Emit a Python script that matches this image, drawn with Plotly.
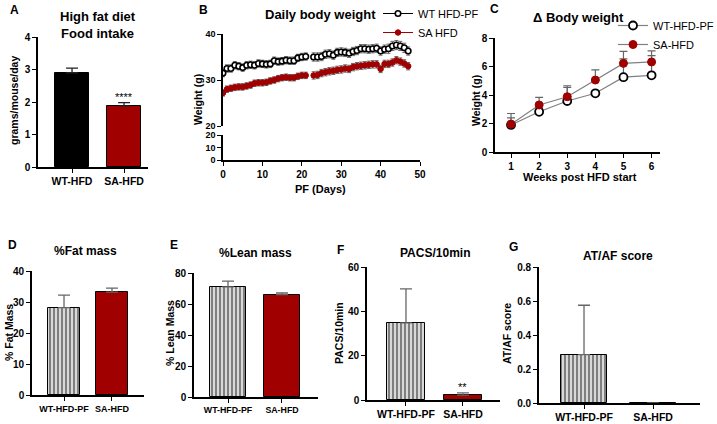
import plotly.graph_objects as go

W, H = 717, 424
FONT = "Liberation Sans, Arial, sans-serif"
RED = "#a00000"
GREY = "#666666"

# ---- data ----
# A: food intake
food_groups = ["WT-HFD", "SA-HFD"]
food_mean = [2.9, 1.88]
food_sem = [0.14, 0.1]

# B: daily body weight (day 22 missing)
days = list(range(48))
wt_daily = [31.5, 32.5, 32.5, 33.2, 33.0, 32.7, 33.2, 33.3, 33.2, 33.6, 33.5, 33.4,
            33.5, 34.2, 34.0, 34.1, 34.3, 34.2, 34.2, 34.8, 35.0, 35.1, None, 35.0,
            35.0, 35.1, 35.6, 35.7, 35.4, 36.0, 36.1, 36.0, 35.8, 36.2, 36.4, 36.8,
            36.8, 36.7, 36.8, 36.9, 36.3, 36.7, 36.8, 37.4, 37.6, 37.4, 37.0, 36.3]
wt_daily_sem = [0.8, 0.8, 0.8, 0.8, 0.8, 0.8, 0.8, 0.8, 0.8, 0.8, 0.8, 0.8,
                0.8, 0.8, 0.8, 0.8, 0.8, 0.8, 0.8, 0.8, 0.8, 0.8, None, 0.9,
                0.9, 0.9, 0.9, 0.9, 0.9, 0.9, 0.9, 0.9, 0.9, 0.9, 0.9, 0.9,
                0.9, 0.9, 0.9, 0.9, 0.9, 0.9, 1.0, 1.0, 1.0, 1.0, 1.0, 0.9]
sa_daily = [27.2, 28.0, 28.2, 28.4, 28.5, 28.5, 28.7, 28.9, 29.3, 29.4, 29.4, 29.5,
            29.8, 30.0, 30.3, 30.5, 30.6, 30.5, 30.5, 30.8, 31.0, 31.0, None, 31.0,
            31.1, 31.5, 31.7, 31.9, 32.0, 32.2, 32.3, 32.5, 32.4, 32.8, 33.0, 33.1,
            33.2, 33.3, 33.4, 33.4, 32.4, 33.5, 33.5, 33.8, 34.3, 34.0, 33.6, 33.0]
sa_daily_sem = [0.7, 0.7, 0.7, 0.7, 0.7, 0.7, 0.7, 0.7, 0.7, 0.7, 0.7, 0.7,
                0.7, 0.7, 0.7, 0.7, 0.7, 0.7, 0.7, 0.7, 0.7, 0.7, None, 0.8,
                0.8, 0.8, 0.8, 0.8, 0.8, 0.8, 0.8, 0.8, 0.8, 0.8, 0.8, 0.8,
                0.8, 0.8, 0.8, 0.8, 0.8, 0.8, 0.8, 0.8, 0.8, 0.8, 0.8, 0.8]

# C: delta body weight
weeks = [1, 2, 3, 4, 5, 6]
wt_delta = [1.9, 2.82, 3.58, 4.12, 5.25, 5.38]
wt_delta_sem = [0.5, 0.2, 0.95, 0.1, 1.28, 1.38]
sa_delta = [1.95, 3.3, 3.88, 5.05, 6.22, 6.32]
sa_delta_sem = [0.75, 0.53, 0.77, 0.72, 0.84, 0.78]

groups = ["WT-HFD-PF", "SA-HFD"]
fat_mean = [28.2, 33.2]
fat_sem = [4.0, 1.3]
lean_mean = [71.0, 66.0]
lean_sem = [3.8, 1.1]
pacs_mean = [34.8, 2.2]
pacs_sem = [15.3, 1.0]
atf_mean = [0.285, 0.0]
atf_sem = [0.29, 0.0]


def px(x):
    return x / W


def py(y):
    return 1 - y / H


fig = go.Figure()


def axis_style(size=10):
    return dict(showgrid=False, zeroline=False, showline=True, linecolor="black",
                linewidth=1.6, ticks="outside", ticklen=4, tickwidth=1.4, tickangle=0,
                tickcolor="black", tickfont=dict(family=FONT, size=size, color="black", weight="bold"))


def bar_panel(n, cats, means, sems, xdom, ydom, xrange, yrange, tickvals, width, fills,
              tickformat=None, xfont=10):
    xa = "x" if n == 1 else f"x{n}"
    ya = "y" if n == 1 else f"y{n}"
    for i, c in enumerate(cats):
        fill = fills[i]
        marker = dict(line=dict(color="black", width=1))
        if fill == "stripe":
            marker["color"] = "white"
            marker["pattern"] = dict(shape="|", fgcolor="black", bgcolor="white", size=4, solidity=0.65)
        else:
            marker["color"] = fill
        fig.add_trace(go.Bar(x=[c], y=[means[i]], width=width, marker=marker, xaxis=xa, yaxis=ya,
                             showlegend=False,
                             error_y=dict(type="data", array=[sems[i]], arrayminus=[0], symmetric=False,
                                          color=GREY, thickness=1.3, width=6)))
    fig.layout[f"xaxis{'' if n == 1 else n}"] = go.layout.XAxis(
        domain=[px(xdom[0]), px(xdom[1])], range=xrange, anchor=ya, type="category", **axis_style(xfont))
    fig.layout[f"yaxis{'' if n == 1 else n}"] = go.layout.YAxis(
        domain=[py(ydom[1]), py(ydom[0])], range=yrange, anchor=xa, tickvals=tickvals,
        tickformat=tickformat, **axis_style(10))


# A
bar_panel(1, food_groups, food_mean, food_sem, (38, 148), (37, 167), [-0.654, 1.46], [0, 4],
          [0, 1, 2, 3, 4], 0.65, ["black", RED], xfont=10.5)
fig.data[0].error_y.color = "#222222"
fig.data[1].error_y.color = "#222222"

# D
bar_panel(4, groups, fat_mean, fat_sem, (32, 144), (271, 395), [-0.667, 1.667], [0, 40],
          [0, 10, 20, 30, 40], 0.667, ["stripe", RED], xfont=9)
# E
bar_panel(5, groups, lean_mean, lean_sem, (194, 318), (273, 397), [-0.63, 1.667], [0, 80],
          [0, 20, 40, 60, 80], 0.68, ["stripe", RED], xfont=8.8)
# F
bar_panel(6, groups, pacs_mean, pacs_sem, (367, 500), (267, 400), [-0.684, 1.65], [0, 60],
          [0, 20, 40, 60], 0.67, ["stripe", RED], xfont=10.5)
# G
bar_panel(7, groups, atf_mean, atf_sem, (539, 700), (267, 403), [-0.652, 1.68], [0, 0.8],
          [0, 0.2, 0.4, 0.6, 0.8], 0.67, ["stripe", RED], tickformat=".1f", xfont=10.5)

# B: broken axis, top part carries data
fig.add_trace(go.Scatter(x=days, y=wt_daily, mode="lines+markers", name="WT HFD-PF",
                         line=dict(color="black", width=1),
                         marker=dict(symbol="circle", size=5.5, color="white", line=dict(color="black", width=1.6)),
                         error_y=dict(type="data", array=wt_daily_sem, color=GREY, thickness=1, width=2),
                         xaxis="x2", yaxis="y2", legend="legend"))
fig.add_trace(go.Scatter(x=days, y=sa_daily, mode="lines+markers", name="SA HFD",
                         line=dict(color=RED, width=1),
                         marker=dict(symbol="circle", size=5.5, color=RED, line=dict(color=RED, width=1)),
                         error_y=dict(type="data", array=sa_daily_sem, color=GREY, thickness=1, width=2),
                         xaxis="x2", yaxis="y2", legend="legend"))
fig.add_trace(go.Scatter(x=[None], y=[None], xaxis="x3", yaxis="y3", showlegend=False))

bx = [px(223), px(420)]
fig.update_layout(
    xaxis2=dict(domain=bx, range=[0, 50], anchor="y2", showticklabels=False, showline=False,
                showgrid=False, zeroline=False, ticks=""),
    yaxis2=dict(domain=[py(126), py(34)], range=[20, 40], anchor="x2", tickvals=[20, 30, 40], **axis_style(9)),
    xaxis3=dict(domain=bx, range=[0, 50], anchor="y3", tickvals=[0, 10, 20, 30, 40, 50], **axis_style(10)),
    yaxis3=dict(domain=[py(160), py(135)], range=[0, 20], anchor="x3", tickvals=[0, 10, 20], **axis_style(9)),
)

# C
fig.add_trace(go.Scatter(x=weeks, y=wt_delta, mode="lines+markers", name="WT-HFD-PF",
                         line=dict(color="#808080", width=1.2),
                         marker=dict(symbol="circle", size=8, color="white", line=dict(color="black", width=1.8)),
                         error_y=dict(type="data", array=wt_delta_sem, arrayminus=[0] * 6, symmetric=False,
                                      color=GREY, thickness=1.2, width=4),
                         xaxis="x8", yaxis="y8", legend="legend2"))
fig.add_trace(go.Scatter(x=weeks, y=sa_delta, mode="lines+markers", name="SA-HFD",
                         line=dict(color="#808080", width=1.2),
                         marker=dict(symbol="circle", size=8, color=RED, line=dict(color=RED, width=1)),
                         error_y=dict(type="data", array=sa_delta_sem, arrayminus=[0] * 6, symmetric=False,
                                      color=GREY, thickness=1.2, width=4),
                         xaxis="x8", yaxis="y8", legend="legend2"))
fig.update_layout(
    xaxis8=dict(domain=[px(495), px(660)], range=[0.43, 6.3], anchor="y8", tickvals=weeks, **axis_style(10)),
    yaxis8=dict(domain=[py(152), py(38)], range=[0, 8], anchor="x8", tickvals=[0, 2, 4, 6, 8], **axis_style(10)),
)

# annotations: titles, axis titles, panel letters, stars
ann = []


def text(x, y, s, size=12, bold=True, angle=0, xanchor="center"):
    ann.append(dict(x=px(x), y=py(y), xref="paper", yref="paper", text=s, showarrow=False,
                    textangle=angle, xanchor=xanchor, yanchor="middle",
                    font=dict(family=FONT, size=size, color="black", weight="bold" if bold else "normal")))


text(8, 10, "A", 12, xanchor="left")
text(197, 10, "B", 12, xanchor="left")
text(488, 9, "C", 12, xanchor="left")
text(6, 245, "D", 12, xanchor="left")
text(168, 245, "E", 12, xanchor="left")
text(335, 250, "F", 12, xanchor="left")
text(507, 247, "G", 12, xanchor="left")

text(98, 25, "High fat diet<br>Food intake", 13)
text(320, 15, "Daily body weight", 13)
text(578, 17, "Δ Body weight", 13)
text(85, 251, "%Fat mass", 12)
text(255, 253, "%Lean mass", 12)
text(435, 253, "PACS/10min", 12)
text(618, 256, "AT/AF score", 12)

text(14, 101, "grams/mouse/day", 10.5, angle=-90)
text(198, 100, "Weight (g)", 10.5, angle=-90)
text(476, 100, "Weight (g)", 10.5, angle=-90)
text(9, 333, "% Fat Mass", 10.5, angle=-90)
text(170, 333, "% Lean Mass", 10.5, angle=-90)
text(339, 333, "PACS/10min", 10.5, angle=-90)
text(507, 334, "AT/AF score", 10.5, angle=-90)

text(320, 189, "PF (Days)", 11)
text(580, 177, "Weeks post HFD start", 11)

ann.append(dict(x="SA-HFD", y=food_mean[1] + food_sem[1], xref="x", yref="y", text="****",
                showarrow=False, yanchor="bottom", yshift=-2, font=dict(family=FONT, size=11, color="black")))
ann.append(dict(x="SA-HFD", y=pacs_mean[1] + pacs_sem[1], xref="x6", yref="y6", text="**",
                showarrow=False, yanchor="bottom", yshift=-2, font=dict(family=FONT, size=11, color="black")))

fig.update_layout(
    annotations=ann,
    width=W, height=H, autosize=False,
    margin=dict(l=0, r=0, t=0, b=0, autoexpand=False),
    paper_bgcolor="white", plot_bgcolor="white",
    bargap=0,
    legend=dict(x=px(378), y=py(-1), xanchor="left", yanchor="top", bgcolor="rgba(0,0,0,0)",
                font=dict(family=FONT, size=11, color="black"), itemwidth=30, tracegroupgap=0),
    legend2=dict(x=px(613), y=py(11), xanchor="left", yanchor="top", bgcolor="rgba(0,0,0,0)",
                 font=dict(family=FONT, size=11, color="black"), itemwidth=30, tracegroupgap=0),
)

# page body has a default 8px margin; drop it so the figure sits at the window origin
fig.write_html("out.html", config={"displayModeBar": False},
               post_script="document.body.style.margin='0px';")
